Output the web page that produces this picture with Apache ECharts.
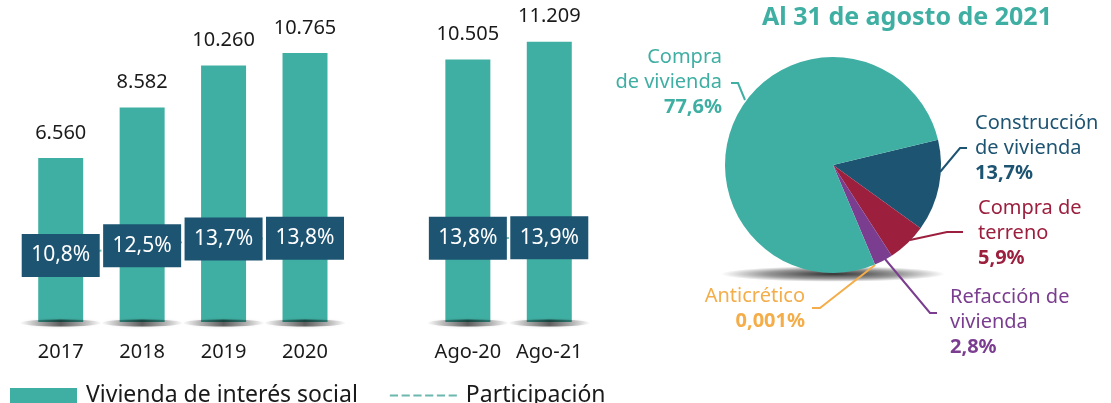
<!DOCTYPE html>
<html>
<head>
<meta charset="utf-8">
<script src="https://cdn.jsdelivr.net/npm/echarts@6/dist/echarts.min.js"></script>
<style>
    html, body { margin: 0; padding: 0; background: #fff; }
    #chart { width: 1111px; height: 403px; }
</style>
</head>
<body>
<div id="chart"></div>
<script>
// --- DATA ---
const categories = ['2017', '2018', '2019', '2020', '', 'Ago-20', 'Ago-21'];
const viviendaSocial = [6560, 8582, 10260, 10765, null, 10505, 11209];
const participacion = [10.8, 12.5, 13.7, 13.8, null, 13.8, 13.9];

const pieTitle = 'Al 31 de agosto de 2021';
const pieNames = ['Construcción\nde vivienda', 'Compra de\nterreno', 'Refacción de\nvivienda', 'Anticrético', 'Compra\nde vivienda'];
const pieValues = [13.7, 5.9, 2.8, 0.001, 77.6];

// --- STYLE ---
const teal = '#40afa3';
const navy = '#1d5472';
const ink = '#1a1a1a';
const font = 'Noto Sans';
const pieColors = [navy, '#9c1f3e', '#7a3d8f', '#f4ad48', teal];

// label placement for the pie: [x, y, align] and leader line points
const pieLabelPos = [[975, 148, 'left'], [978, 233, 'left'], [950, 322, 'left'], [805, 309, 'right'], [722, 82, 'right']];
const pieLinePts = [
    [[940, 172], [960, 148], [967, 148]],
    [[910, 240], [947, 232], [963, 232]],
    [[885, 259], [930, 313], [937, 313]],
    [[875, 265], [820, 308], [812, 308]],
    [[745, 100], [738, 83], [731, 83]]
];

const miles = v => String(v).replace(/\B(?=(\d{3})+(?!\d))/g, '.');
const pct = v => String(v).replace('.', ',') + '%';

const ellipse = 'path://M0,50A50,50 0 1,1 100,50A50,50 0 1,1 0,50Z';
const dashIcon = 'path://M0,0h8v2h-8zM11.5,0h8v2h-8zM23,0h8v2h-8zM34.5,0h8v2h-8zM46,0h8v2h-8zM57.5,0h8v2h-8z';

const chart = echarts.init(document.getElementById('chart'));

chart.setOption({
    animation: false,
    textStyle: { fontFamily: font },
    title: {
        text: pieTitle, left: 902, top: 0, textAlign: 'center',
        textStyle: { color: teal, fontSize: 25, fontWeight: 'bold', fontFamily: font }
    },
    legend: {
        left: 10, top: 384, padding: 0, itemWidth: 67, itemHeight: 15, itemGap: 32,
        textStyle: { color: ink, fontSize: 23, fontFamily: font, padding: [0, 0, 0, 4] },
        data: [
            { name: 'Vivienda de interés social', icon: 'rect' },
            { name: 'Participación', icon: dashIcon }
        ]
    },
    grid: { left: 20, width: 570, top: 22, bottom: 81 },
    xAxis: {
        type: 'category', data: categories,
        axisLine: { show: false }, axisTick: { show: false },
        axisLabel: { color: ink, fontSize: 20, margin: 20, interval: 0, fontFamily: font }
    },
    yAxis: [
        { type: 'value', min: 0, max: 12000, show: false },
        { type: 'value', min: -0.9, max: 51.8, show: false }
    ],
    graphic: [{
        type: 'circle', x: 833, y: 274, scaleY: 0.07, z: 0, silent: true,
        shape: { cx: 0, cy: 0, r: 112 },
        style: {
            fill: new echarts.graphic.RadialGradient(0.5, 0.5, 0.5, [
                { offset: 0, color: 'rgba(0,0,0,0.8)' },
                { offset: 0.6, color: 'rgba(0,0,0,0.4)' },
                { offset: 1, color: 'rgba(0,0,0,0)' }
            ])
        }
    }],
    series: [
        {
            name: 'Vivienda de interés social', type: 'bar', data: viviendaSocial,
            barWidth: 45, z: 2,
            itemStyle: { color: teal },
            label: {
                show: true, position: 'top', distance: 15, color: ink, fontSize: 20,
                fontFamily: font, formatter: p => miles(p.value)
            }
        },
        {
            // floor shadow under each bar
            type: 'scatter', data: viviendaSocial.map(v => v == null ? null : 0),
            symbol: ellipse, symbolSize: [82, 7], symbolKeepAspect: false, symbolOffset: [0, 1],
            z: 3, silent: true, clip: false,
            itemStyle: {
                color: new echarts.graphic.LinearGradient(0, 0, 1, 0, [
                    { offset: 0, color: 'rgba(0,0,0,0)' },
                    { offset: 0.5, color: 'rgba(0,0,0,0.7)' },
                    { offset: 1, color: 'rgba(0,0,0,0)' }
                ]),
                shadowBlur: 3, shadowColor: 'rgba(0,0,0,0.3)'
            }
        },
        {
            name: 'Participación', type: 'line', yAxisIndex: 1, data: participacion,
            z: 4, symbol: 'circle', symbolSize: 2,
            lineStyle: { color: '#6cb8ae', width: 2, type: [5, 4] },
            itemStyle: { color: '#6cb8ae' },
            label: {
                show: true, position: 'inside', formatter: p => pct(p.value),
                color: '#fff', fontSize: 21, fontFamily: font,
                backgroundColor: navy, width: 64, height: 23, lineHeight: 23,
                padding: [10, 7], align: 'center', verticalAlign: 'middle'
            }
        },
        {
            type: 'pie', center: [833, 165], radius: 108, startAngle: 13.5,
            clockwise: true, z: 2,
            data: pieNames.map((n, i) => ({
                name: n, value: pieValues[i],
                itemStyle: { color: pieColors[i] },
                label: { color: pieColors[i] },
                labelLine: { lineStyle: { color: pieColors[i] } }
            })),
            label: {
                show: true, position: 'outside', fontFamily: font,
                formatter: p => p.name.split('\n').map(s => '{n|' + s + '}').join('\n') + '\n{p|' + pct(p.value) + '}',
                rich: {
                    n: { fontSize: 20, lineHeight: 25, fontFamily: font },
                    p: { fontSize: 20, lineHeight: 25, fontWeight: 'bold', fontFamily: font }
                }
            },
            labelLine: { show: true, length: 10, length2: 10, lineStyle: { width: 2 } },
            labelLayout: params => {
                const i = params.dataIndex;
                return {
                    x: pieLabelPos[i][0], y: pieLabelPos[i][1], align: pieLabelPos[i][2],
                    verticalAlign: 'middle', labelLinePoints: pieLinePts[i]
                };
            }
        }
    ]
});
</script>
</body>
</html>
